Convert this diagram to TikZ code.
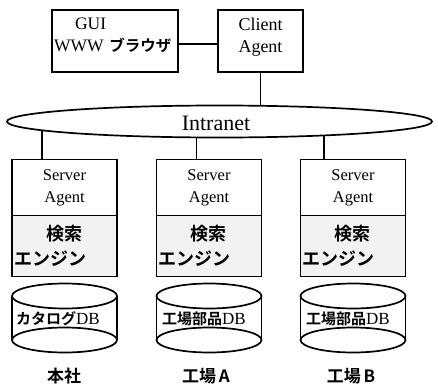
\documentclass[tikz,border=0pt]{standalone}
\usepackage{fontspec}
\setmainfont{Liberation Serif}
\newfontfamily\jp{Noto Sans CJK JP}[BoldFont={* Bold}]
\usetikzlibrary{shapes.geometric,calc}
\begin{document}
\begin{tikzpicture}[x=1pt,y=-1pt,
  lw/.style={line width=1.7pt},
  box/.style={draw, lw, rectangle, inner sep=0pt, align=center},
  ser/.style={font=\fontsize{16.5}{22}\selectfont},
  eng/.style={box, fill=gray!10, minimum width=105pt, minimum height=61pt,
    text width=101pt, align=left, font=\jp\bfseries\fontsize{18}{25}\selectfont},
  sa/.style={box, minimum width=105pt, minimum height=56pt, ser},
  lbl/.style={font=\jp\bfseries\fontsize{17}{20}\selectfont, inner sep=0pt},
  dbt/.style={font=\fontsize{17}{20}\selectfont, inner sep=0pt}
]
\useasboundingbox (0,0) rectangle (438,385);

% top boxes
\node[box, minimum width=126pt, minimum height=62pt] (gui) at (115,41) {};
\node[align=left, text width=122pt, inner sep=0pt, font=\fontsize{17.5}{22}\selectfont]
  (guitext) at (115,35)
  {\hspace*{21pt}GUI\\WWW {\jp\bfseries\fontsize{15.5}{22}\selectfont ブラウザ}};
\node[box, minimum width=85pt, minimum height=62pt] (client) at (260.5,41) {};
\node[align=center, inner sep=0pt, font=\fontsize{18}{22}\selectfont]
  (clienttext) at (260.5,37) {Client\\Agent};
\draw[lw] ([yshift=-3pt]gui.east) -- ([yshift=-3pt]client.west);

% intranet
\node[draw, lw, ellipse, minimum width=425pt, minimum height=32pt, inner sep=0pt,
  font=\fontsize{22}{24}\selectfont] (intranet) at (219.5,121.5) {};
\node[inner sep=0pt, font=\fontsize{22}{24}\selectfont] (inettext) at (216,123) {Intranet};
\draw[lw] (client.south) -- (client.south |- intranet.north);

% server columns
\node[sa] (sa1) at (64.5,187.5) {Server\\Agent};
\node[sa] (sa2) at (209,187.5) {Server\\Agent};
\node[sa] (sa3) at (353,187.5) {Server\\Agent};
\node[eng] (en1) at (64.5,246) {\hspace*{1.8em}検索\\エンジン};
\node[eng] (en2) at (209,246) {\hspace*{1.8em}検索\\エンジン};
\node[eng] (en3) at (353,246) {\hspace*{1.8em}検索\\エンジン};

\draw[lw] (intranet.183.35) -- (intranet.183.35 |- sa1.north);
\draw[lw] (intranet.216.97) -- (intranet.216.97 |- sa2.north);
\draw[lw] (intranet.352.45) -- (intranet.352.45 |- sa3.north);

% cylinders
\foreach \cx in {64.5,209,353}{
  \draw[lw] (\cx,340) ellipse [x radius=52.5, y radius=12.5];
  \draw[lw] (\cx-52.5,296) -- (\cx-52.5,340) (\cx+52.5,296) -- (\cx+52.5,340);
  \draw[lw] (\cx,296) ellipse [x radius=52.5, y radius=12.5];
}
\node[dbt] (db1) at (58,319) {{\jp\bfseries\fontsize{15}{18}\selectfont カタログ}DB};
\node[dbt] (db2) at (204,319) {{\jp\bfseries\fontsize{15}{18}\selectfont 工場部品}DB};
\node[dbt] (db3) at (348,319) {{\jp\bfseries\fontsize{15}{18}\selectfont 工場部品}DB};

% site labels
\node[lbl] (l1) at (64,376) {本社};
\node[lbl] (l2) at (206,376) {工場\,A};
\node[lbl] (l3) at (351,376) {工場\,B};
\end{tikzpicture}
\end{document}
